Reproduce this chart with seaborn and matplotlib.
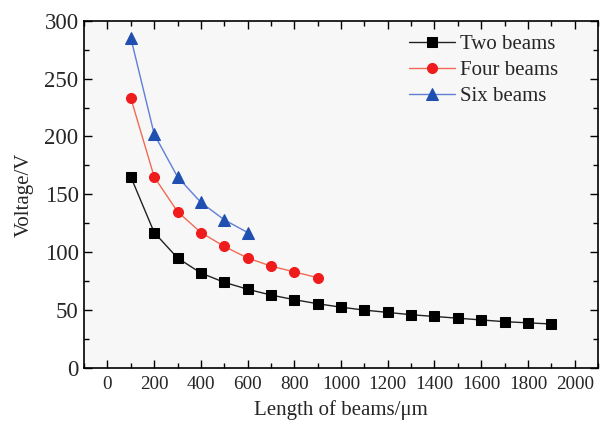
import matplotlib
matplotlib.use("Agg")
import matplotlib.pyplot as plt
import seaborn as sns
import pandas as pd
from matplotlib.ticker import MultipleLocator

two_x = [100, 200, 300, 400, 500, 600, 700, 800, 900, 1000, 1100, 1200, 1300, 1400, 1500, 1600, 1700, 1800, 1900]
two_y = [165, 117, 95, 82, 74, 68, 63, 59, 55.5, 52.5, 50, 48, 46, 44.5, 43, 41.5, 40, 39, 38]
four_x = [100, 200, 300, 400, 500, 600, 700, 800, 900]
four_y = [233, 165, 135, 117, 105, 95, 88, 83, 78]
six_x = [100, 200, 300, 400, 500, 600]
six_y = [285, 202, 165, 143, 128, 117]
series_names = ["Two beams", "Four beams", "Six beams"]

df = pd.concat([
    pd.DataFrame({"x": two_x, "y": two_y, "s": series_names[0]}),
    pd.DataFrame({"x": four_x, "y": four_y, "s": series_names[1]}),
    pd.DataFrame({"x": six_x, "y": six_y, "s": series_names[2]}),
])

sns.set_style("ticks")
plt.rcParams['font.family'] = ['Liberation Serif', 'DejaVu Serif']

fig = plt.figure(figsize=(6.01, 4.22), dpi=100)
ax = fig.add_axes([0.14, 0.128, 0.855, 0.823])
ax.set_facecolor('#f7f7f7')

line_colors = {"Two beams": "#222222", "Four beams": "#f26a55", "Six beams": "#5f7fd6"}
marker_colors = {"Two beams": "#000000", "Four beams": "#ee1c1c", "Six beams": "#1f4fb0"}
markers = {"Two beams": "s", "Four beams": "o", "Six beams": "^"}
msizes = {"Two beams": 6.5, "Four beams": 7.2, "Six beams": 8.5}

for name in series_names:
    sub = df[df["s"] == name]
    sns.lineplot(data=sub, x="x", y="y", ax=ax, color=line_colors[name], lw=1.0,
                 marker=markers[name], markersize=msizes[name],
                 markerfacecolor=marker_colors[name], markeredgecolor=marker_colors[name],
                 label=name)

ax.set_xlim(-100, 2100)
ax.set_ylim(0, 300)
ax.xaxis.set_major_locator(MultipleLocator(200))
ax.xaxis.set_minor_locator(MultipleLocator(100))
ax.yaxis.set_major_locator(MultipleLocator(50))
ax.yaxis.set_minor_locator(MultipleLocator(25))
ax.tick_params(which='both', direction='in', top=True, right=True, color='black')
ax.tick_params(which='major', length=6, width=1)
ax.tick_params(which='minor', length=3.5, width=1)
ax.tick_params(axis='x', labelsize=13.8, pad=6)
ax.tick_params(axis='y', labelsize=16.5, pad=4)
for sp in ax.spines.values():
    sp.set_linewidth(1.2)
    sp.set_color('black')

ax.set_xlabel("Length of beams/μm", fontsize=15, labelpad=5)
ax.set_ylabel("Voltage/V", fontsize=15, labelpad=8)

leg = ax.legend(loc='upper left', frameon=False, fontsize=15, handlelength=2.2,
                borderaxespad=0, borderpad=0, labelspacing=0.3, handletextpad=0.25,
                bbox_to_anchor=(0.632, 0.96))

fig.savefig("out.png", dpi=100)
